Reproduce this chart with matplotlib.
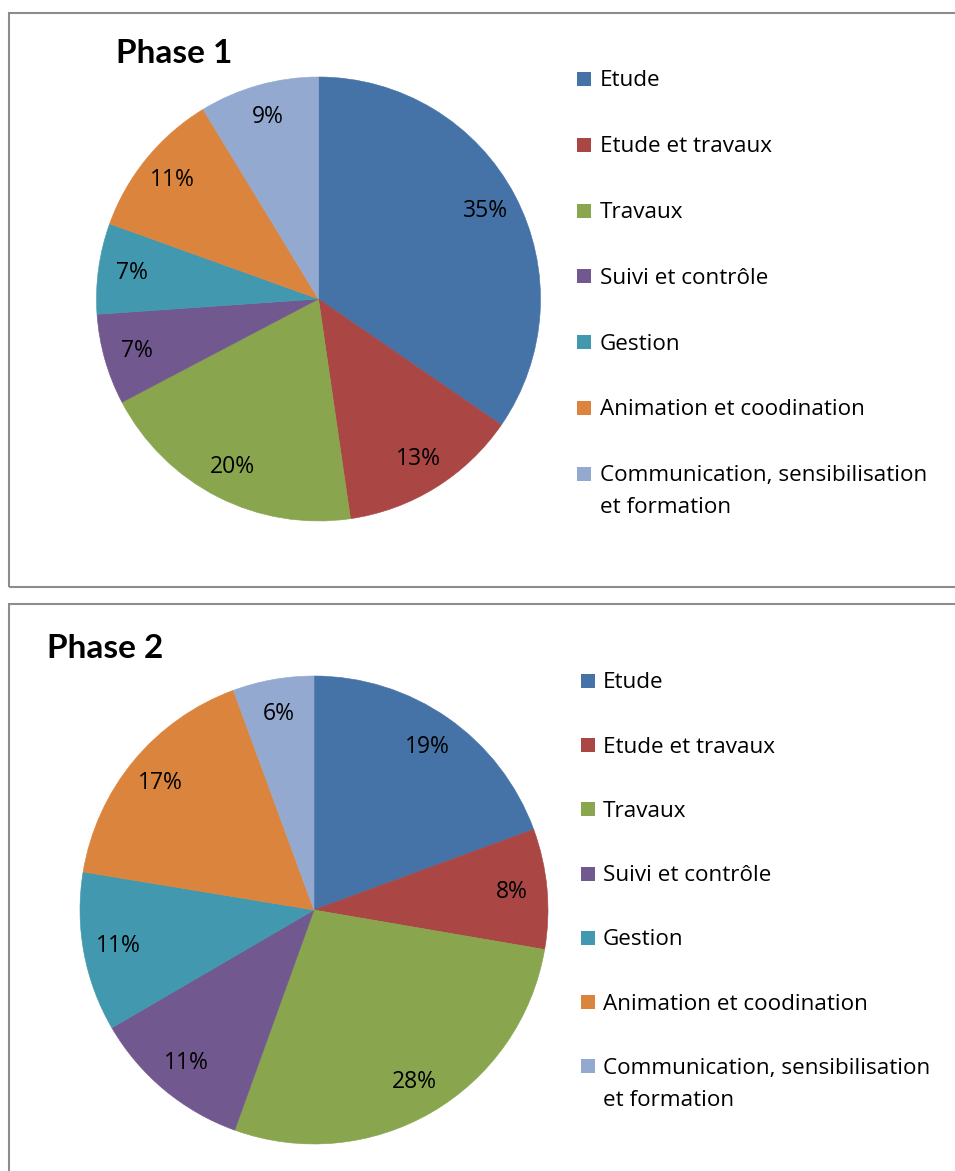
import matplotlib
matplotlib.use("Agg")
import matplotlib.pyplot as plt
from matplotlib.patches import Rectangle

categories = ["Etude", "Etude et travaux", "Travaux", "Suivi et contrôle", "Gestion",
              "Animation et coodination", "Communication, sensibilisation\net formation"]
phase1_values = [34.6, 13.1, 19.6, 6.6, 6.6, 10.8, 8.7]
phase2_values = [19.4, 8.3, 27.8, 11.1, 11.0, 16.8, 5.6]
titles = ["Phase 1", "Phase 2"]
colors = ["#4572A7", "#AA4643", "#89A54E", "#71588F", "#4198AF", "#DB843D", "#93A9CF"]

plt.rcParams['font.family'] = ['Open Sans', 'DejaVu Sans']

W, H = 955, 1171
fig = plt.figure(figsize=(W / 100, H / 100), dpi=100)
fig.patch.set_facecolor('white')


def fx(x):
    return x / W


def fy(y):
    return 1 - y / H


panels = [
    dict(values=phase1_values, title=titles[0], box=(8.5, 12.5, 970, 586.5),
         center=(318.5, 299), r=222, title_xy=(116, 63),
         leg_x=577, text_x=600, leg_y0=79, leg_dy=65.8),
    dict(values=phase2_values, title=titles[1], box=(8.5, 603.5, 970, 1190),
         center=(314, 910), r=234, title_xy=(47, 658),
         leg_x=581, text_x=603, leg_y0=681, leg_dy=64.2),
]

for p in panels:
    x0, y0, x1, y1 = p['box']
    fig.patches.append(Rectangle((fx(x0), fy(y1)), (x1 - x0) / W, (y1 - y0) / H,
                                 transform=fig.transFigure, fill=False,
                                 edgecolor='#8c8c8c', linewidth=1.5))
    cx, cy = p['center']
    r = p['r']
    ax = fig.add_axes([fx(cx - r), fy(cy + r), 2 * r / W, 2 * r / H])
    wedges, texts, autotexts = ax.pie(
        p['values'], colors=colors, startangle=90, counterclock=False,
        autopct='%1.0f%%', pctdistance=0.85, radius=1,
        wedgeprops=dict(linewidth=0.4),
        textprops=dict(fontsize=16.5, color='black'))
    for w in wedges:
        w.set_edgecolor(w.get_facecolor())
    ax.set_xlim(-1, 1)
    ax.set_ylim(-1, 1)
    ax.set_aspect('equal')
    ax.axis('off')

    tx, ty = p['title_xy']
    fig.text(fx(tx), fy(ty), p['title'], fontsize=24, fontweight='bold',
             family=['Lato', 'DejaVu Sans'],
             ha='left', va='baseline', color='black')

    for i, (lab, col) in enumerate(zip(categories, colors)):
        yc = p['leg_y0'] + i * p['leg_dy']
        fig.patches.append(Rectangle((fx(p['leg_x']), fy(yc + 7)), 14 / W, 14 / H,
                                     transform=fig.transFigure, facecolor=col,
                                     edgecolor='none'))
        for j, line in enumerate(lab.split("\n")):
            fig.text(fx(p['text_x']), fy(yc + 7.5 + j * 32), line, fontsize=16.2,
                     ha='left', va='baseline', color='black')

fig.savefig("out.png", dpi=100, facecolor='white')
